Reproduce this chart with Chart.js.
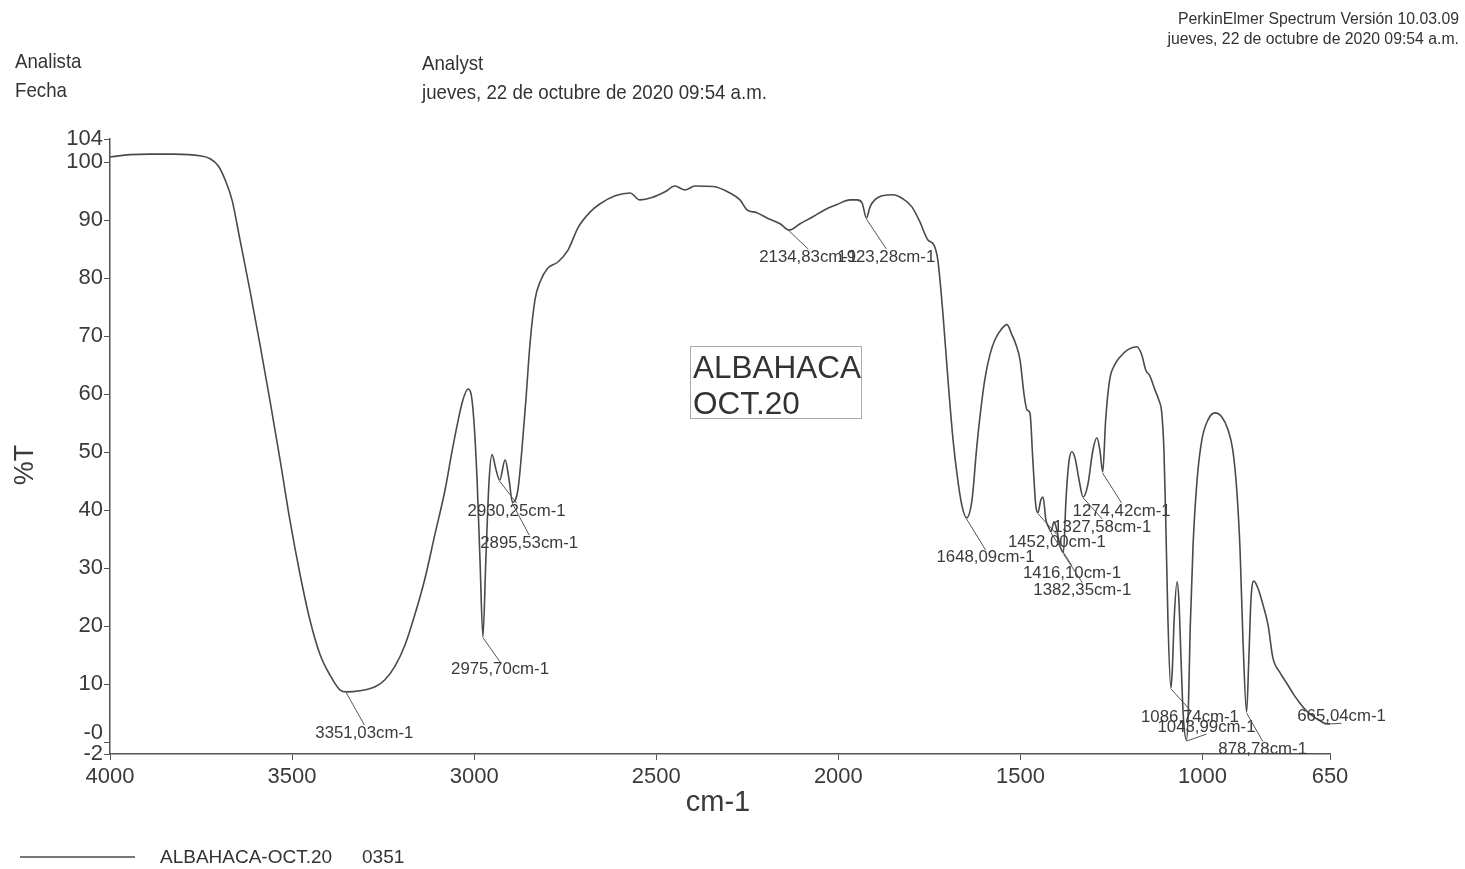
<!DOCTYPE html>
<html lang="es">
<head>
<meta charset="utf-8">
<title>ALBAHACA-OCT.20</title>
<script src="https://cdn.jsdelivr.net/npm/chart.js@4.4.1/dist/chart.umd.min.js"></script>
<style>
  body { margin: 0; background: #fff; }
  #wrap { position: relative; width: 1465px; height: 869px; overflow: hidden;
          font-family: "Liberation Sans", Arial, sans-serif; color: #333; }
  #spectrum { position: absolute; left: 0; top: 0; }
  .txt { position: absolute; white-space: nowrap; }
  .narrow { font-size: 21px; line-height: 22px; transform: scaleX(0.89); transform-origin: left center; }
  .soft { font-size: 15.8px; line-height: 20px; text-align: right; right: 6px; top: 9px; }
  #sample { left: 690px; top: 346px; width: 172px; height: 73px; border: 1px solid #aaa;
            font-size: 31.5px; line-height: 36px; padding: 2px 0 0 2px; box-sizing: border-box; }
  #legendLine { position: absolute; left: 20px; top: 856px; width: 115px; height: 2px; background: #777; }
  .legend { font-size: 19px; line-height: 20px; top: 847px; }
</style>
</head>
<body>
<div id="wrap">
  <canvas id="spectrum" width="1465" height="869"></canvas>
  <div class="txt soft">PerkinElmer Spectrum Versión 10.03.09<br>jueves, 22 de octubre de 2020 09:54 a.m.</div>
  <div class="txt narrow" style="left:15px; top:50px;">Analista</div>
  <div class="txt narrow" style="left:15px; top:79px;">Fecha</div>
  <div class="txt narrow" style="left:422px; top:52px;">Analyst</div>
  <div class="txt narrow" style="left:422px; top:81px;">jueves, 22 de octubre de 2020 09:54 a.m.</div>
  <div id="sample" class="txt">ALBAHACA<br>OCT.20</div>
  <div id="legendLine"></div>
  <div class="txt legend" style="left:160px;">ALBAHACA-OCT.20</div>
  <div class="txt legend" style="left:362px;">0351</div>
</div>
<script>
"use strict";

/**
 * @file IR-spektrum (PerkinElmer) för provet ALBAHACA-OCT.20, ritat med Chart.js.
 */

// Vågtal (cm-1) och transmittans (%T) avlästa från spektrumet
const wavenumbers = [
  4000, 3945, 3890, 3822, 3753, 3725, 3703, 3684, 3665, 3643, 3616, 3588, 3561, 3533, 3506, 3478,
  3451, 3423, 3396, 3368, 3351, 3314, 3272, 3245, 3217, 3190, 3163, 3135, 3108, 3080, 3061, 3045,
  3031, 3017, 3009, 3001, 2992, 2984, 2976, 2968, 2959, 2951, 2940, 2930, 2915, 2904, 2895, 2880,
  2869, 2858, 2847, 2833, 2819, 2797, 2770, 2742, 2715, 2682, 2655, 2613, 2572, 2545, 2512, 2476,
  2449, 2421, 2394, 2344, 2298, 2270, 2251, 2224, 2196, 2160, 2135, 2105, 2070, 2037, 2004, 1968,
  1949, 1935, 1923, 1913, 1900, 1880, 1850, 1823, 1798, 1776, 1754, 1738, 1727, 1713, 1699, 1685,
  1672, 1661, 1648, 1633, 1620, 1609, 1598, 1584, 1570, 1554, 1537, 1523, 1512, 1501, 1490, 1482,
  1474, 1466, 1458, 1452, 1444, 1438, 1430, 1422, 1416, 1408, 1400, 1392, 1382, 1375, 1367, 1359,
  1350, 1339, 1328, 1315, 1301, 1290, 1282, 1274, 1266, 1255, 1241, 1227, 1205, 1180, 1167, 1156,
  1145, 1131, 1120, 1112, 1106, 1101, 1095, 1087, 1083, 1078, 1070, 1065, 1059, 1053, 1044, 1039,
  1034, 1026, 1015, 1002, 985, 966, 947, 930, 917, 906, 897, 889, 879, 873, 867, 859,
  848, 834, 820, 807, 788, 768, 749, 733, 714, 694, 677, 665, 650
];

const transmittance = [
  100.9, 101.3, 101.4, 101.4, 101.1, 100.6, 99.4, 97.0, 93.5, 86.6, 78.0, 68.5, 59.0, 48.7, 38.3, 28.9,
  21.1, 15.1, 11.6, 9.0, 8.7, 8.9, 9.6, 10.8, 13.2, 16.8, 22.0, 28.3, 35.8, 43.5, 50.1, 55.2,
  59.0, 60.9, 60.2, 55.6, 45.2, 31.4, 18.2, 31.4, 45.2, 49.6, 47.0, 45.2, 48.7, 45.2, 41.4, 43.5,
  50.4, 59.0, 68.5, 76.3, 79.4, 81.8, 82.8, 84.9, 88.7, 91.4, 92.8, 94.2, 94.7, 93.5, 93.9, 94.9,
  95.9, 95.2, 95.9, 95.8, 94.7, 93.5, 91.8, 91.3, 90.4, 89.4, 88.3, 89.4, 90.6, 91.8, 92.7, 93.5,
  93.5, 93.0, 90.4, 92.3, 93.5, 94.2, 94.4, 93.7, 92.3, 89.7, 86.6, 85.8, 83.2, 74.0, 62.5, 52.1,
  45.2, 40.9, 38.7, 41.8, 50.9, 57.3, 62.5, 66.8, 69.4, 71.1, 72.0, 70.2, 68.5, 65.9, 59.9, 57.3,
  56.8, 48.7, 40.9, 39.6, 41.8, 42.3, 38.3, 37.0, 36.3, 38.0, 36.6, 34.0, 32.7, 41.8, 48.3, 50.1,
  49.0, 45.2, 42.3, 44.4, 50.4, 52.5, 50.4, 46.6, 55.6, 62.5, 65.1, 66.4, 67.7, 68.2, 66.8, 64.2,
  63.2, 60.8, 59.0, 56.8, 50.4, 38.3, 21.1, 9.4, 12.5, 21.1, 27.7, 24.6, 14.2, 4.7, 0.4, 5.6,
  19.4, 34.0, 45.2, 52.1, 55.6, 56.8, 56.1, 53.9, 50.4, 43.5, 33.2, 17.7, 5.2, 14.2, 24.6, 27.8,
  26.6, 23.7, 20.2, 14.6, 12.1, 10.1, 8.2, 6.8, 5.4, 4.4, 3.7, 3.3, 3.2
];

// Axelmarkeringar
const xTicks = [4000, 3500, 3000, 2500, 2000, 1500, 1000, 650];
const yTicks = [-2, 0, 10, 20, 30, 40, 50, 60, 70, 80, 90, 100, 104];

// Markerade toppar
const peakWavenumbers = [3351.03, 2975.70, 2930.25, 2895.53, 2134.83, 1923.28, 1648.09, 1452.00,
  1416.10, 1382.35, 1327.58, 1274.42, 1086.74, 1043.99, 878.78, 665.04];
const peakTransmittance = [8.7, 18.2, 45.2, 41.4, 88.3, 90.4, 38.7, 39.6,
  36.3, 32.7, 42.3, 46.6, 9.4, 0.4, 5.2, 3.3];
const peakLabels = ["3351,03cm-1", "2975,70cm-1", "2930,25cm-1", "2895,53cm-1", "2134,83cm-1",
  "1923,28cm-1", "1648,09cm-1", "1452,00cm-1", "1416,10cm-1", "1382,35cm-1", "1327,58cm-1",
  "1274,42cm-1", "1086,74cm-1", "1043,99cm-1", "878,78cm-1", "665,04cm-1"];

// Etiketternas förskjutning (px) från toppen
const labelOffsets = [[18, 41], [17, 33], [17, 31], [17, 41], [19, 27], [20, 39], [19, 40], [19, 30],
  [21, 42], [19, 38], [19, 30], [19, 39], [19, 30], [20, -13], [16, 37], [17, -7]];

const fontFamily = "'Liberation Sans', Arial, sans-serif";
const inkColor = "#3a3a3a";
const axisColor = "#555";

document.addEventListener("DOMContentLoaded", createSpectrumChart);

/**
 * Ritar toppetiketter, axeltitlar och "-0"-markeringen ovanpå diagrammet.
 */
const annotationPlugin = {
  id: "annotations",
  afterDraw(chart) {
    const ctx = chart.ctx;
    const xScale = chart.scales.x;
    const yScale = chart.scales.y;
    ctx.save();

    ctx.font = "16.8px " + fontFamily;
    ctx.fillStyle = inkColor;
    ctx.strokeStyle = "#555";
    ctx.lineWidth = 1;
    ctx.textAlign = "center";
    ctx.textBaseline = "middle";
    peakWavenumbers.forEach((wn, i) => {
      const px = xScale.getPixelForValue(wn);
      const py = yScale.getPixelForValue(peakTransmittance[i]);
      const tx = px + labelOffsets[i][0];
      const ty = py + labelOffsets[i][1];
      ctx.beginPath();
      ctx.moveTo(px, py + 1);
      ctx.lineTo(tx, labelOffsets[i][1] > 0 ? ty - 8 : ty + 7);
      ctx.stroke();
      ctx.fillText(peakLabels[i], tx, ty);
    });

    // "-0" ritas en bit ovanför sin markering, som i originalet
    ctx.font = "22px " + fontFamily;
    ctx.textAlign = "right";
    ctx.fillText("-0", xScale.left - 7, yScale.getPixelForValue(0) - 9);

    ctx.font = "29px " + fontFamily;
    ctx.textAlign = "center";
    ctx.fillText("cm-1", 718, 803);

    ctx.translate(26, 465);
    ctx.rotate(-Math.PI / 2);
    ctx.font = "27px " + fontFamily;
    ctx.fillText("%T", 0, 0);

    ctx.restore();
  }
};

/**
 * Skapar linjediagrammet med spektrumet.
 *
 * @returns {void}
 */
function createSpectrumChart() {
  const canvas = document.querySelector("#spectrum");

  const points = wavenumbers.map((wn, i) => ({ x: wn, y: transmittance[i] }));

  new Chart(canvas, {
    type: "scatter",
    data: {
      datasets: [
        {
          label: "ALBAHACA-OCT.20",
          data: points,
          showLine: true,
          borderColor: "#4a4a4a",
          borderWidth: 1.6,
          pointRadius: 0,
          cubicInterpolationMode: "monotone",
        },
      ],
    },
    options: {
      responsive: false,
      animation: false,
      devicePixelRatio: 1,
      layout: { padding: { top: 139, right: 135, bottom: 0, left: 0 } },
      plugins: {
        legend: { display: false },
        tooltip: { enabled: false },
      },
      scales: {
        x: {
          type: "linear",
          reverse: true,
          min: 650,
          max: 4000,
          afterBuildTicks: (scale) => {
            scale.ticks = xTicks.map((v) => ({ value: v }));
          },
          afterFit: (scale) => {
            scale.height = 115;
          },
          ticks: {
            font: { size: 22, family: fontFamily },
            color: inkColor,
            padding: 4,
            maxRotation: 0,
            autoSkip: false,
            callback: (v) => String(v),
          },
          grid: { drawOnChartArea: false, drawTicks: true, tickLength: 6, color: axisColor },
          border: { color: axisColor, width: 1.5 },
        },
        y: {
          type: "linear",
          min: -2,
          max: 104,
          afterBuildTicks: (scale) => {
            scale.ticks = yTicks.map((v) => ({ value: v }));
          },
          afterFit: (scale) => {
            scale.width = 110;
          },
          ticks: {
            font: { size: 22, family: fontFamily },
            color: inkColor,
            padding: 1,
            autoSkip: false,
            callback: (v) => (v === 0 ? "" : String(v)),
          },
          grid: { drawOnChartArea: false, drawTicks: true, tickLength: 6, color: axisColor },
          border: { color: axisColor, width: 1.5 },
        },
      },
    },
    plugins: [annotationPlugin],
  });
}
</script>
</body>
</html>
